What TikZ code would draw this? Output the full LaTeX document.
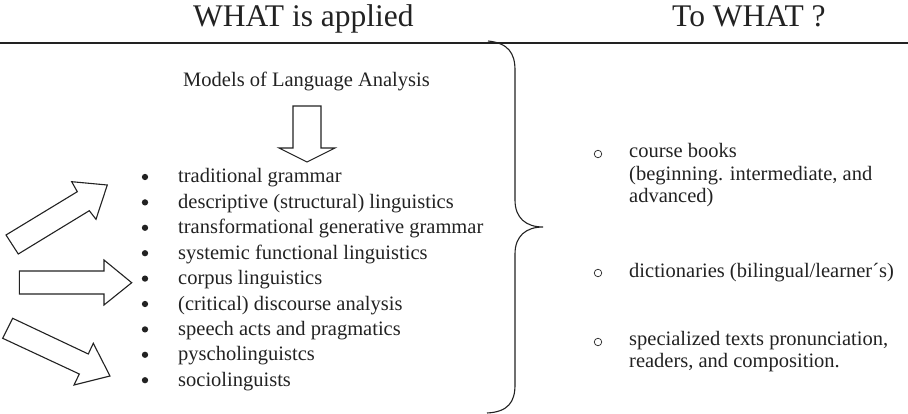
\documentclass[tikz,border=0pt]{standalone}
\usepackage{fontspec}
\setmainfont{Liberation Serif}
\definecolor{ink}{HTML}{222222}
\begin{document}
\begin{tikzpicture}[x=1pt,y=-1pt,
  txt/.style={inner sep=0pt,anchor=base west,text=ink,font=\fontsize{20.5}{24}\selectfont},
  ttl/.style={inner sep=0pt,anchor=base west,text=ink,font=\fontsize{31.5}{36}\selectfont},
  dot/.style={circle,fill=ink,minimum size=6.3pt,inner sep=0pt},
  ring/.style={circle,draw=ink,line width=0.7pt,minimum size=7.5pt,inner sep=0pt},
  blk/.style={draw=ink,line width=1.1pt,fill=white,line join=miter},
  rule/.style={draw=ink,line width=1.1pt}]
\useasboundingbox (0,0) rectangle (908,414);
% titles
\node[ttl] (t1) at (193,27) {WHAT is applied};
\node[ttl] (t2) at (672,27) {To WHAT ?};
\draw[rule] (0,43) -- (908,43);
% models heading
\node[txt,anchor=base] (models) at (306.5,87) {Models of Language Analysis};
% down arrow
\draw[blk] (293,106) -- (321,106) -- (321,148) -- (335,148) -- (307,162) -- (279,148) -- (293,148) -- cycle;
% list
\foreach \t [count=\i from 0] in {traditional grammar,descriptive (structural) linguistics,transformational generative grammar,systemic functional linguistics,corpus linguistics,(critical) discourse analysis,speech acts and pragmatics,pyscholinguistcs,sociolinguists}{
  \node[dot] (b\i) at (145,177+25.4*\i) {};
  \node[txt] (l\i) at (178,183+25.4*\i) {\t};
}
% left arrows
\draw[blk] (6,235) -- (18.3,254) -- (89.3,210.7) -- (96,219.3) -- (107.3,185) -- (71.7,181.7) -- (77.3,191.7) -- cycle;
\draw[blk] (19.3,271) -- (19.3,294) -- (104,294) -- (104,305) -- (131.7,282.7) -- (104,260) -- (104,271) -- cycle;
\draw[blk] (12.7,318.3) -- (88.3,354) -- (93.3,343.3) -- (110,376) -- (74,385) -- (79.3,374) -- (2.7,338.3) -- cycle;
% brace
\draw[rule] (488,41) .. controls (508,43) and (515,53) .. (515,70) -- (515,200)
  .. controls (515,218) and (526,227) .. (543,227)
  .. controls (526,227) and (515,236) .. (515,254) -- (515,385)
  .. controls (515,402) and (508,412) .. (487,413);
% right list
\node[ring] (r1) at (598,154) {};
\node[txt] (c1a) at (629,158) {course books};
\node[txt] (c1b) at (629,180.5) {(beginning. intermediate, and};
\node[txt] (c1c) at (629,203) {advanced)};
\node[ring] (r2) at (598,273) {};
\node[txt] (c2) at (629,277) {dictionaries (bilingual/learner´s)};
\node[ring] (r3) at (598,342) {};
\node[txt] (c3a) at (629,345) {specialized texts pronunciation,};
\node[txt] (c3b) at (629,367.5) {readers, and composition.};
\end{tikzpicture}
\end{document}
